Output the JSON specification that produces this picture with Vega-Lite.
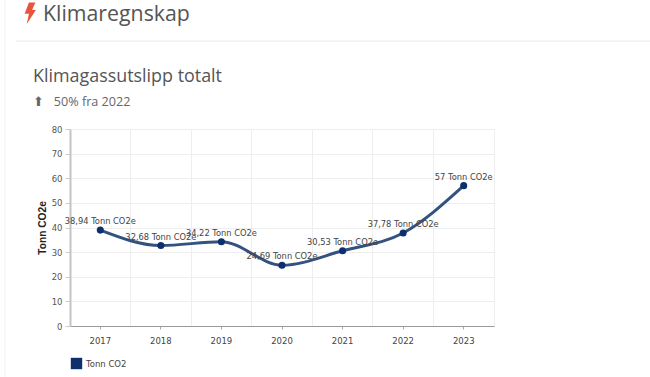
{
"$schema":"https://vega.github.io/schema/vega-lite/v6.json",
"width":424,"height":197,
"autosize":{"type":"none"},
"padding":{"left":70,"top":129,"right":156,"bottom":51},
"background":"white",
"title":{"text":"Klimagassutslipp totalt","subtitle":"⬆\u00a0\u00a0\u00a050% fra 2022","anchor":"start","frame":"group","dx":-37,"offset":-109,"font":"Open Sans","fontSize":17.9,"fontWeight":"normal","color":"#555555","subtitleFont":"Open Sans","subtitleFontSize":12.6,"subtitleColor":"#666666","subtitlePadding":10},
"data":{"values":[
{"year":"2017","co2":38.94,"label":"38,94 Tonn CO2e","serie":"Tonn CO2"},
{"year":"2018","co2":32.68,"label":"32,68 Tonn CO2e","serie":"Tonn CO2"},
{"year":"2019","co2":34.22,"label":"34,22 Tonn CO2e","serie":"Tonn CO2"},
{"year":"2020","co2":24.69,"label":"24,69 Tonn CO2e","serie":"Tonn CO2"},
{"year":"2021","co2":30.53,"label":"30,53 Tonn CO2e","serie":"Tonn CO2"},
{"year":"2022","co2":37.78,"label":"37,78 Tonn CO2e","serie":"Tonn CO2"},
{"year":"2023","co2":57,"label":"57 Tonn CO2e","serie":"Tonn CO2"}
]},
"config":{"view":{"stroke":"#eeeeee"}},
"resolve":{"scale":{"x":"independent"},"axis":{"x":"independent","y":"independent"}},
"layer":[
{"mark":{"type":"line","opacity":0},
"encoding":{
"x":{"field":"year","type":"nominal","scale":{"type":"band","paddingInner":0,"paddingOuter":0},"axis":{"orient":"bottom","bandPosition":0,"title":null,"labels":false,"ticks":false,"domain":false,"grid":true,"gridColor":"#eeeeee"}},
"y":{"field":"co2","type":"quantitative","scale":{"domain":[0,80]},"axis":{"orient":"left","values":[0,10,20,30,40,50,60,70,80],"labelOverlap":false,"title":"Tonn CO2e","titleFont":"Liberation Sans","titleFontSize":10.2,"titleFontWeight":"bold","titleColor":"#222222","titlePadding":4,"labelFont":"DejaVu Sans","labelFontSize":8.5,"labelColor":"#555555","labelPadding":3,"tickColor":"#cccccc","tickSize":5,"domainColor":"#c4c4c4","domainWidth":2,"grid":true,"gridColor":"#eeeeee"}}
}},
{"mark":{"type":"line","interpolate":"monotone","color":"#34527f","strokeWidth":3},
"encoding":{
"x":{"field":"year","type":"nominal","scale":{"type":"band","paddingInner":0,"paddingOuter":0},"axis":{"orient":"bottom","title":null,"labelAngle":0,"labelFont":"DejaVu Sans","labelFontSize":8.5,"labelColor":"#444444","labelPadding":7,"tickColor":"#aaaaaa","tickSize":3,"domainColor":"#999999","domainWidth":1,"grid":false}},
"y":{"field":"co2","type":"quantitative","axis":null}
}},
{"mark":{"type":"point","filled":true,"opacity":1,"size":50},
"encoding":{
"x":{"field":"year","type":"nominal","scale":{"type":"band","paddingInner":0,"paddingOuter":0},"axis":null},
"y":{"field":"co2","type":"quantitative","axis":null},
"color":{"field":"serie","type":"nominal","scale":{"range":["#0d2f6e"]},"legend":{"title":null,"orient":"none","legendX":0,"legendY":228,"symbolType":"square","symbolSize":130,"symbolOpacity":1,"labelFont":"DejaVu Sans","labelFontSize":8.5,"labelColor":"#444444","padding":0,"labelOffset":3}}
}},
{"mark":{"type":"text","font":"DejaVu Sans","fontSize":8.3,"color":"#444444","dy":-8},
"encoding":{
"x":{"field":"year","type":"nominal","scale":{"type":"band","paddingInner":0,"paddingOuter":0},"axis":null},
"y":{"field":"co2","type":"quantitative","axis":null},
"text":{"field":"label","type":"nominal"}
}},
{"data":{"values":[{"heading":"Klimaregnskap"}]},
"mark":{"type":"text","font":"Open Sans","fontSize":21.3,"color":"#555555","align":"left","baseline":"middle"},
"encoding":{
"x":{"datum":-27,"type":"quantitative","scale":{"domain":[0,424],"nice":false,"zero":false},"axis":null},
"y":{"datum":126.4,"type":"quantitative","axis":null},
"text":{"field":"heading","type":"nominal"}
}},
{"data":{"values":[{"icon":"bolt"}]},
"mark":{"type":"point","filled":true,"opacity":1,"color":"#e8553e","size":460,"shape":"M-0.1,-1 L0.5,-1 L0.2,-0.3 L0.55,-0.3 L-0.3,1 L-0.1,0.05 L-0.5,0.05 Z"},
"encoding":{
"x":{"datum":-40,"type":"quantitative","scale":{"domain":[0,424],"nice":false,"zero":false},"axis":null},
"y":{"datum":127,"type":"quantitative","axis":null}
}},
{"data":{"values":[{"line":"divider"}]},
"mark":{"type":"rule","color":"#e8e8e8","strokeWidth":1},
"encoding":{
"x":{"datum":-54,"type":"quantitative","scale":{"domain":[0,424],"nice":false,"zero":false},"axis":null},
"x2":{"datum":580},
"y":{"datum":115.7,"type":"quantitative","axis":null}
}},
{"data":{"values":[{"line":"page"}]},
"mark":{"type":"rule","color":"#f2f2f2","strokeWidth":1},
"encoding":{
"x":{"datum":-65,"type":"quantitative","scale":{"domain":[0,424],"nice":false,"zero":false},"axis":null},
"y":{"datum":132.4,"type":"quantitative","axis":null},
"y2":{"datum":-20.6}
}}
]
}
